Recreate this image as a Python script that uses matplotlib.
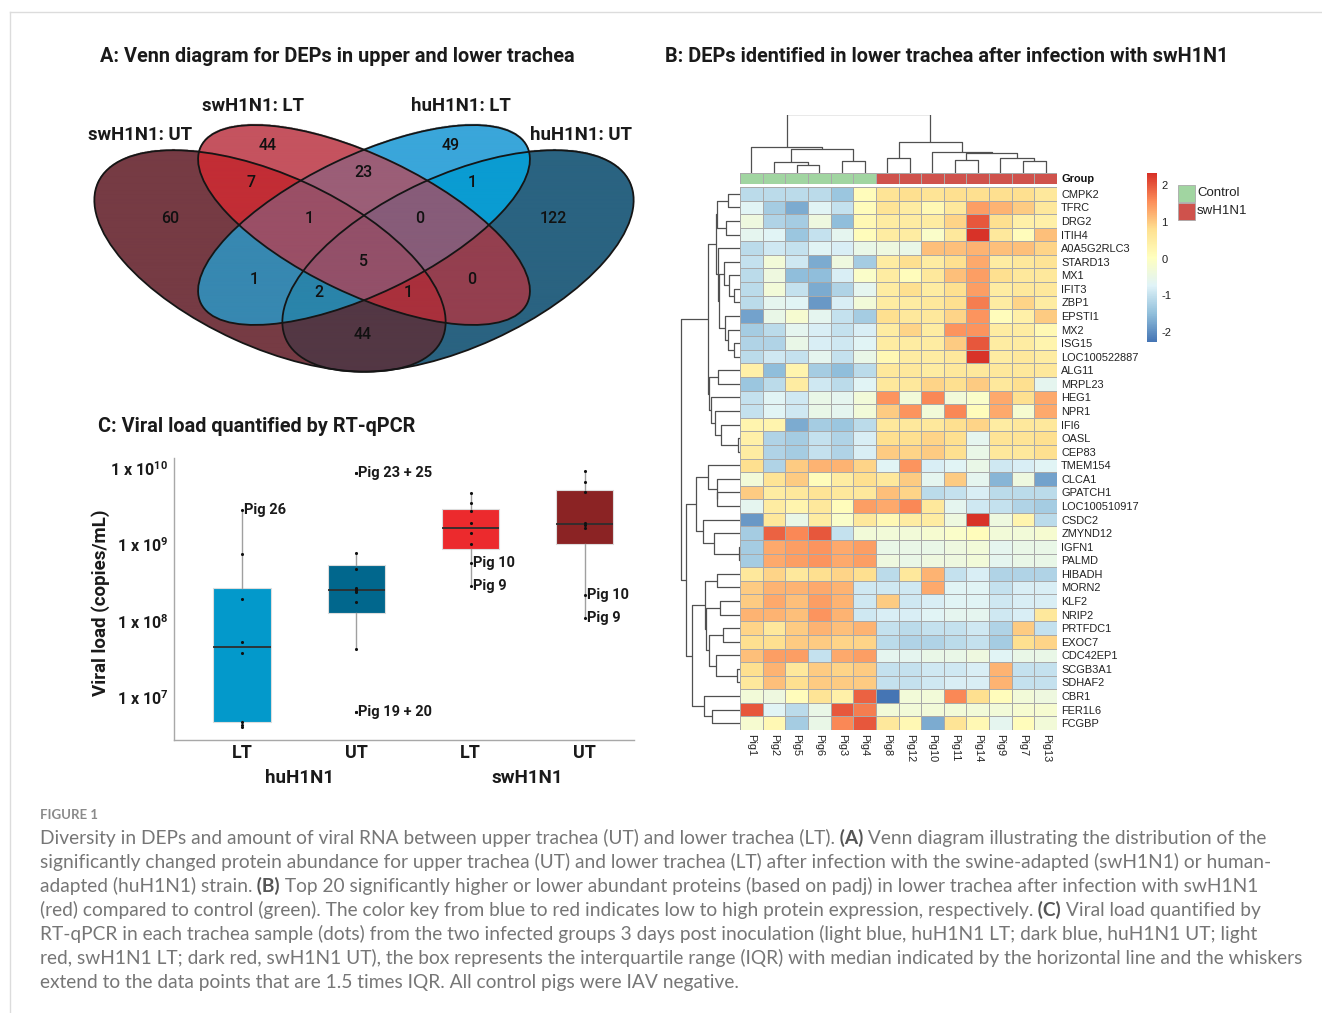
import numpy as np
import matplotlib
matplotlib.use('Agg')
import matplotlib.pyplot as plt
from matplotlib.patches import Ellipse, Rectangle
from matplotlib.lines import Line2D
from matplotlib.colors import LinearSegmentedColormap, ListedColormap, Normalize, to_rgba

plt.rcParams['font.family'] = ['Roboto', 'DejaVu Sans']
plt.rcParams['axes.unicode_minus'] = False
plt.rcParams['mathtext.fontset'] = 'custom'
plt.rcParams['mathtext.rm'] = 'Roboto:bold'

# ---------------- data ----------------
# A: Venn counts (A=swUT, B=swLT, C=huLT, D=huUT)
venn_sets = ['swH1N1: UT', 'swH1N1: LT', 'huH1N1: LT', 'huH1N1: UT']
venn_regions = ['A', 'B', 'C', 'D', 'AB', 'BC', 'CD', 'AC', 'BD', 'AD',
                'ABC', 'BCD', 'ACD', 'ABD', 'ABCD']
venn_counts = [60, 44, 49, 122, 7, 23, 1, 1, 0, 44, 1, 0, 2, 1, 5]

# B: heatmap (row z-scores)
genes = ['CMPK2', 'TFRC', 'DRG2', 'ITIH4', 'A0A5G2RLC3', 'STARD13', 'MX1', 'IFIT3',
         'ZBP1', 'EPSTI1', 'MX2', 'ISG15', 'LOC100522887', 'ALG11', 'MRPL23', 'HEG1',
         'NPR1', 'IFI6', 'OASL', 'CEP83', 'TMEM154', 'CLCA1', 'GPATCH1', 'LOC100510917',
         'CSDC2', 'ZMYND12', 'IGFN1', 'PALMD', 'HIBADH', 'MORN2', 'KLF2', 'NRIP2',
         'PRTFDC1', 'EXOC7', 'CDC42EP1', 'SCGB3A1', 'SDHAF2', 'CBR1', 'FER1L6', 'FCGBP']
pigs = ['Pig1', 'Pig2', 'Pig5', 'Pig6', 'Pig3', 'Pig4', 'Pig8', 'Pig12',
        'Pig10', 'Pig11', 'Pig14', 'Pig9', 'Pig7', 'Pig13']
groups = ['Control'] * 6 + ['swH1N1'] * 8
expr = np.array([
    [-1.1, -1.1, -1.1, -1.1, -1.4, 0.1, 0.7, 0.8, 0.7, 0.8, 0.8, 0.8, 0.8, 0.6],
    [-0.7, -1.3, -1.7, -0.7, -1.0, 0.1, 0.7, 0.5, 0.2, 0.6, 1.4, 1.2, 1.0, 0.6],
    [-0.4, -1.2, -1.3, -0.4, -1.5, 0.2, 0.5, 0.5, 0.5, 0.9, 2.0, 0.8, 0.4, 0.4],
    [-0.6, -0.7, -1.4, -1.0, -0.6, 0.1, 0.5, 0.5, -0.1, 0.6, 2.3, 0.6, 0.1, 1.1],
    [-1.1, -0.9, -1.0, -0.7, -0.8, -0.5, -0.4, -0.5, 1.1, 1.1, 1.2, 1.1, 1.1, 0.9],
    [-1.0, -0.3, -0.9, -1.7, -0.4, -1.3, 0.5, 0.8, 0.5, 0.8, 1.3, 0.5, 0.6, 0.7],
    [-1.1, -0.4, -1.5, -1.5, -0.8, -0.1, 0.5, 0.1, 0.6, 1.1, 1.4, 0.8, 0.6, 0.6],
    [-1.1, -0.3, -1.0, -1.7, -1.2, -0.6, 0.5, 0.8, 0.5, 0.8, 1.4, 0.5, 0.6, 0.6],
    [-1.1, -0.6, -0.7, -1.9, -0.8, -0.3, 0.5, 0.5, 0.6, 0.8, 1.7, 0.5, 0.9, 0.5],
    [-1.8, -0.5, -0.2, -0.6, -1.0, -1.3, 0.8, 0.6, 0.6, 0.9, 1.5, 0.1, 0.4, 1.0],
    [-1.3, -1.1, -0.6, -0.8, -1.0, -0.8, 0.5, 0.9, 0.5, 1.5, 1.5, 0.5, 0.5, 0.2],
    [-1.2, -1.2, -0.5, -0.8, -0.9, -0.7, 0.5, 0.5, 0.5, 1.0, 2.0, 0.5, 0.5, 0.3],
    [-1.1, -0.9, -1.0, -0.6, -1.0, -0.5, 0.2, 0.5, 0.5, 0.6, 2.3, 0.5, 0.6, 0.5],
    [0.4, -1.5, 0.3, -1.3, -1.5, -1.1, 0.6, 0.6, 0.5, 0.6, 0.6, 0.6, 0.6, 0.6],
    [-1.4, -1.1, 0.5, -0.9, -1.1, -0.7, 0.6, 0.6, 0.9, 0.8, 1.0, 0.6, 0.8, -0.6],
    [-1.0, -0.7, -0.9, -0.5, -0.6, -0.3, 1.5, -0.3, 1.6, -0.3, -0.1, 1.3, 0.8, 1.3],
    [-1.0, -0.7, -0.9, -0.5, -0.6, -0.3, 1.0, 1.5, -0.3, 1.6, 0.1, 1.3, -0.2, 1.3],
    [0.3, 0.3, -1.7, -1.3, -1.4, -1.1, 0.6, 0.6, 0.6, 0.8, 0.9, 0.5, 0.6, 0.6],
    [0.4, -1.2, -1.3, -1.0, -1.2, -0.8, 0.8, 0.8, 0.9, 0.8, -0.6, 0.7, 0.7, 0.8],
    [0.5, -1.2, -1.3, -1.0, -1.2, -0.8, 1.0, 0.9, 1.0, 0.8, -0.5, 0.6, 0.6, 0.8],
    [0.8, -1.2, 1.0, 1.2, 1.2, 0.9, -0.7, 1.5, -0.8, -0.7, -0.5, -0.9, -0.8, -0.7],
    [-0.3, 0.7, 1.0, 0.1, 0.5, 0.8, 0.6, 1.0, -0.6, 1.0, -0.6, -1.6, -0.4, -1.8],
    [1.0, 0.5, 0.6, 0.7, 0.6, 0.6, 1.1, 0.9, -1.1, -1.0, -0.8, -1.1, -1.1, -1.1],
    [-0.6, 0.5, 0.3, 0.6, 0.1, 1.4, 1.3, 1.6, 0.6, -0.6, -0.9, -1.0, -1.2, -1.3],
    [-1.9, 0.6, -0.5, 0.5, -0.1, 0.6, 0.2, 0.5, 0.5, -0.4, 2.3, -0.4, 0.3, -1.1],
    [-1.3, 1.9, 1.6, 2.0, -1.0, -0.3, -0.3, -0.3, -0.2, -0.1, 0.1, -0.3, -0.3, -0.2],
    [-1.3, 1.3, 1.4, 1.5, 1.3, 1.4, -0.5, -0.5, -0.5, -0.4, -0.3, -0.6, -0.5, -0.5],
    [-1.3, 1.3, 1.4, 1.5, 1.3, 1.4, -0.4, -0.5, -0.4, -0.4, -0.3, -0.6, -0.5, -0.5],
    [0.6, 0.9, 0.6, 0.8, 0.9, 0.8, -1.1, 0.6, 1.2, -1.0, -0.8, -1.2, -1.2, -1.2],
    [1.0, 1.2, 1.2, 1.3, 1.2, -0.9, -0.9, -0.9, 1.3, -0.7, -0.7, -1.0, -0.8, -0.8],
    [1.0, 1.3, 1.1, 1.4, 1.2, -0.9, 1.0, -0.9, -0.8, -0.7, -0.7, -0.9, -0.8, -0.8],
    [1.2, 1.2, 1.1, 1.5, 1.2, -0.9, -0.8, -0.8, -0.7, -0.6, -0.6, -0.9, -0.8, 0.6],
    [0.9, 0.6, 1.0, 1.2, 1.1, 1.2, -1.0, -1.1, -1.0, -1.0, -0.9, -1.2, 1.0, -1.0],
    [0.8, 0.8, 1.0, 1.0, 0.9, 0.9, -1.1, -1.2, -1.2, -1.1, -1.0, -1.3, 0.8, 0.9],
    [1.1, 1.4, 1.4, -1.0, 1.3, 1.4, -0.6, -0.6, -0.5, -0.5, -0.4, -0.7, -0.5, -0.5],
    [0.8, 1.2, 0.6, 1.0, 0.9, 1.0, -1.0, -1.0, -0.9, -0.9, -0.8, 1.2, -1.0, -1.0],
    [0.6, 1.1, 0.8, 1.0, 1.0, 1.0, -1.0, -1.0, -0.9, -0.8, -0.8, 1.2, -1.0, -1.0],
    [-0.3, -0.4, 0.1, 0.7, 0.4, 1.9, -2.3, -0.3, -0.3, 1.6, 0.8, 0.1, -0.3, -0.4],
    [2.0, -0.7, -1.1, -0.5, 2.0, 1.7, -0.3, -0.3, -0.3, -0.3, -0.3, -0.3, -0.2, -0.2],
    [-0.2, 0.2, -1.3, -0.5, 1.6, 2.0, 0.6, 0.2, -1.7, 0.7, 0.2, -0.6, 0.1, -0.3],
])

# clustering trees: (left, right, merge height); ints are display positions
col_tree = ((0, ((1, (2, 3, 7.7), 10.3), (4, 5, 12.0), 23.3), 25.3),
            ((6, 7, 14.3), (8, ((9, 10, 12.7), (11, (12, 13, 12.0), 15.0), 20.0), 21.0), 30.3),
            58.5)
row_top = ((((0, 1, 11.7), (2, 3, 13.7), 22.7),
            (4, (((5, (6, (7, 8, 6.0), 11.0), 16.0), (9, (10, (11, 12, 6.0), 11.7), 15.0), 21.0)), 22.0),
            23.7),
           ((13, 14, 21.7), (15, (16, (17, (18, 19, 1.7), 19.3), 25.0), 28.7), 31.0), 31.7)
row_bottom = (((20, (21, (22, 23, 22.7), 23.3), 31.7), (24, (25, (26, 27, 1.0), 26.0), 37.0), 43.7),
              ((((28, 29, 22.7), ((30, 31, 20.3), ((32, 33, 17.0), (34, (35, 36, 2.7), 24.3), 31.0), 33.7), 35.0)),
                (37, (38, 39, 27.7), 36.0), 48.3), 54.3)
row_tree = (row_top, row_bottom, 59.3)

# C: viral load (copies/mL)
load_groups = ['LT', 'UT', 'LT', 'UT']
hu_lt = [4.15e6, 4.37e6, 4.83e6, 3.78e7, 5.37e7, 1.96e8, 7.45e8, 2.82e9]
hu_ut = [6.52e6, 6.52e6, 4.31e7, 1.79e8, 2.42e8, 2.54e8, 2.54e8, 2.72e8,
         4.79e8, 7.67e8, 8.69e9, 8.69e9]
sw_lt = [2.89e8, 5.68e8, 1.02e9, 1.43e9, 1.93e9, 2.74e9, 3.52e9, 4.67e9]
sw_ut = [1.08e8, 2.19e8, 1.66e9, 1.78e9, 1.89e9, 4.81e9, 6.62e9, 9.23e9]
pig_notes = [(0, 2.82e9, 'Pig 26'), (1, 8.69e9, 'Pig 23 + 25'), (1, 6.52e6, 'Pig 19 + 20'),
             (2, 5.68e8, 'Pig 10'), (2, 2.89e8, 'Pig 9'),
             (3, 2.19e8, 'Pig 10'), (3, 1.08e8, 'Pig 9')]

# ---------------- figure ----------------
W, H = 1322, 1013
fig = plt.figure(figsize=(W / 100, H / 100), dpi=100)


def px_axes(x0, y0, x1, y1):
    return fig.add_axes([x0 / W, 1 - y1 / H, (x1 - x0) / W, (y1 - y0) / H])


def fig_text(x, y, s, **kw):
    return fig.text(x / W, 1 - y / H, s, **kw)


# thin page frame
fig.add_artist(Line2D([10 / W, 1], [1 - 12 / H, 1 - 12 / H], color='#dcdcdc', lw=1))
fig.add_artist(Line2D([10 / W, 10 / W], [0, 1 - 12 / H], color='#dcdcdc', lw=1))

title_kw = dict(fontsize=14.3, fontweight='bold', color='#1a1a1a', va='center', ha='left')
fig_text(100, 57, 'A: Venn diagram for DEPs in upper and lower trachea', **title_kw)
fig_text(665, 56, 'B: DEPs identified in lower trachea after infection with swH1N1', **title_kw)
fig_text(98, 426, 'C: Viral load quantified by RT-qPCR', **title_kw)

# ---- A: Venn ----
ax = px_axes(80, 95, 650, 400)
ax.set_xlim(80, 650)
ax.set_ylim(400, 95)
ax.axis('off')

ellipses = [(270, 261, 189, 86, 24.5), (364, 225, 181, 69, 25.6),
            (364, 225, 181, 69, -25.6), (458, 261, 189, 86, -24.5)]
region_colors = {'A': '#763b44', 'B': '#c5535f', 'C': '#3aa6da', 'D': '#2a6381',
                 'AB': '#c22d35', 'BC': '#9b5e77', 'CD': '#0a9cd2', 'AC': '#3788b1',
                 'BD': '#943f4f', 'AD': '#533744', 'ABC': '#9a4f66', 'BCD': '#875c79',
                 'ACD': '#2a84aa', 'ABD': '#a9303c', 'ABCD': '#935069'}
step = 0.5
gx = 80 + (np.arange(int(570 / step)) + 0.5) * step
gy = 95 + (np.arange(int(305 / step)) + 0.5) * step
X, Y = np.meshgrid(gx, gy)
code = np.zeros(X.shape, dtype=int)
for k, (cx, cy, a, b, ang) in enumerate(ellipses):
    t = np.deg2rad(ang)
    u = (X - cx) * np.cos(t) + (Y - cy) * np.sin(t)
    v = -(X - cx) * np.sin(t) + (Y - cy) * np.cos(t)
    code += ((u / a) ** 2 + (v / b) ** 2 <= 1).astype(int) << k
lut = np.zeros((16, 4))
for name, col in region_colors.items():
    idx = sum(1 << 'ABCD'.index(ch) for ch in name)
    lut[idx] = to_rgba(col)
ax.imshow(lut[code], extent=(80, 650, 400, 95), origin='upper', interpolation='bilinear')
for cx, cy, a, b, ang in ellipses:
    ax.add_patch(Ellipse((cx, cy), 2 * a, 2 * b, angle=ang, fill=False, ec='#151515', lw=1.3))

count_pos = {'A': (170, 218), 'B': (268, 145), 'C': (451, 145), 'D': (553, 218),
             'AB': (251, 182), 'BC': (363, 172), 'CD': (472, 182), 'AC': (254, 279),
             'BD': (472, 279), 'AD': (363, 334), 'ABC': (309, 218), 'BCD': (420, 218),
             'ACD': (319, 292), 'ABD': (408, 292), 'ABCD': (363, 261)}
for reg, n in zip(venn_regions, venn_counts):
    x, y = count_pos[reg]
    ax.text(x, y, str(n), ha='center', va='center', fontsize=11.5, fontweight='medium',
            color='#111111')
set_pos = [(140, 135), (253, 106), (461, 106), (581, 135)]
for name, (x, y) in zip(venn_sets, set_pos):
    ax.text(x, y, name, ha='center', va='center', fontsize=13.3, fontweight='bold',
            color='#1a1a1a')

# ---- B: heatmap ----
cmap = LinearSegmentedColormap.from_list(
    'rdylbu', ['#4575B4', '#91BFDB', '#E0F3F8', '#FFFFBF', '#FEE090', '#FC8D59', '#D73027'])
norm = Normalize(vmin=-2.27, vmax=2.33)
hx0, hy0, hx1, hy1 = 740, 187, 1057, 730

axh = px_axes(hx0, hy0, hx1, hy1)
mesh = axh.pcolormesh(np.arange(15), np.arange(41), expr, cmap=cmap, norm=norm,
                      edgecolors='#a9a9a9', linewidth=0.5)
axh.set_xlim(0, 14)
axh.set_ylim(40, 0)
for s in axh.spines.values():
    s.set_visible(False)
axh.yaxis.tick_right()
axh.set_yticks(np.arange(40) + 0.5, genes)
axh.set_xticks(np.arange(14) + 0.5, pigs, rotation=-90)
axh.tick_params(length=0, pad=3, labelsize=7.9, labelfontfamily='Liberation Sans',
                colors='#222222')

axg = px_axes(hx0, 172.7, hx1, 184.5)
grp_codes = np.array([[0 if g == 'Control' else 1 for g in groups]])
axg.pcolormesh(np.arange(15), np.arange(2), grp_codes,
               cmap=ListedColormap(['#a1d5a1', '#cf524c']), vmin=0, vmax=1,
               edgecolors='#a9a9a9', linewidth=0.5)
axg.set_xlim(0, 14)
axg.set_ylim(1, 0)
axg.axis('off')
fig_text(1061, 179.5, 'Group', fontsize=7.9, fontweight='bold', family='Liberation Sans',
         va='center', ha='left', color='#111111')


def draw_tree(a, node, rows):
    if isinstance(node, int):
        return node + 0.5, 0.0
    left, right, h = node
    pl, hl = draw_tree(a, left, rows)
    pr, hr = draw_tree(a, right, rows)
    p = [pl, pl, pr, pr]
    q = [hl, h, h, hr]
    if rows:
        a.plot(q, p, color='#505050', lw=0.9, solid_capstyle='butt')
    else:
        a.plot(p, q, color='#505050', lw=0.9, solid_capstyle='butt')
    return (pl + pr) / 2, h


axd = px_axes(740, 115, 1057, 172.7)
draw_tree(axd, col_tree, rows=False)
axd.set_xlim(0, 14)
axd.set_ylim(0, 57.7)
axd.axis('off')

axr = px_axes(680, hy0, 740, hy1)
draw_tree(axr, row_tree, rows=True)
axr.set_xlim(60, 0)
axr.set_ylim(40, 0)
axr.axis('off')

cax = px_axes(1147, 173, 1157, 342)
cb = fig.colorbar(mesh, cax=cax, ticks=[-2, -1, 0, 1, 2])
cb.outline.set_visible(False)
cax.tick_params(length=0, pad=3, labelsize=8, colors='#222222')
for lab in cax.get_yticklabels():
    lab.set_family('Liberation Sans')

axl = px_axes(1176, 184, 1260, 222)
axl.set_xlim(0, 84)
axl.set_ylim(38, 0)
axl.axis('off')
for i, (name, col) in enumerate([('Control', '#a1d5a1'), ('swH1N1', '#cf524c')]):
    axl.add_patch(Rectangle((2, 1 + 18 * i), 17, 17, fc=col, ec='#a9a9a9', lw=0.6))
    axl.text(21, 9.5 + 18 * i, name, va='center', ha='left', fontsize=9.5,
             family='Liberation Sans', color='#222222')

# ---- C: viral load ----
axb = px_axes(174, 458, 634, 740)
box_colors = ['#0399cb', '#01678d', '#ec2a2d', '#8b2324']
logs = [np.log10(v) for v in (hu_lt, hu_ut, sw_lt, sw_ut)]
bp = axb.boxplot(logs, positions=[1, 2, 3, 4], widths=0.5, patch_artist=True,
                 showfliers=False, showcaps=False, whis=1.5,
                 medianprops=dict(color='#2e2e2e', lw=1.3),
                 whiskerprops=dict(color='#a0a0a0', lw=1.0),
                 boxprops=dict(lw=0.8))
for patch, col in zip(bp['boxes'], box_colors):
    patch.set_facecolor(col)
    patch.set_edgecolor('#dddddd')
for i, vals in enumerate(logs):
    axb.scatter(np.full(len(vals), i + 1), vals, s=5, color='#111111', zorder=4, lw=0)
for gi, val, lab in pig_notes:
    axb.annotate(lab, (gi + 1, np.log10(val)), xytext=(1.5, 0), textcoords='offset points',
                 va='center', ha='left', fontsize=10.5, fontweight='bold', color='#1a1a1a')

axb.set_xlim(0.405, 4.43)
axb.set_ylim(6.444, 10.131)
axb.set_yticks([7, 8, 9, 10], ['1 x 10$^{%d}$' % e for e in (7, 8, 9, 10)])
axb.set_xticks([1, 2, 3, 4], load_groups)
axb.tick_params(axis='y', length=0, labelsize=11.5, labelcolor='#1a1a1a', pad=4)
axb.tick_params(axis='x', length=0, labelsize=13, labelcolor='#1a1a1a', pad=3)
for lab in axb.get_xticklabels():
    lab.set_fontweight('bold')
for lab in axb.get_yticklabels():
    lab.set_fontweight('bold')
for side in ('top', 'right'):
    axb.spines[side].set_visible(False)
for side in ('left', 'bottom'):
    axb.spines[side].set_color('#a8a8a8')
    axb.spines[side].set_linewidth(1.0)
fig_text(101, 603, 'Viral load (copies/mL)', rotation=90, fontsize=13.5, fontweight='bold',
         va='center', ha='center', color='#1a1a1a')
fig_text(299, 778, 'huH1N1', fontsize=13.5, fontweight='bold', va='center', ha='center',
         color='#1a1a1a')
fig_text(527, 778, 'swH1N1', fontsize=13.5, fontweight='bold', va='center', ha='center',
         color='#1a1a1a')

# ---- caption ----
cap_color = '#767676'
fig_text(40, 815, 'FIGURE 1', fontsize=9.5, family='Lato', fontweight='bold',
         color='#8a8a8a', va='center', ha='left')
caption = [
    [('Diversity in DEPs and amount of viral RNA between upper trachea (UT) and lower trachea (LT).', False),
     (' (A)', True), (' Venn diagram illustrating the distribution of the', False)],
    [('significantly changed protein abundance for upper trachea (UT) and lower trachea (LT) after infection with the swine-adapted (swH1N1) or human-', False)],
    [('adapted (huH1N1) strain.', False), (' (B)', True),
     (' Top 20 significantly higher or lower abundant proteins (based on padj) in lower trachea after infection with swH1N1', False)],
    [('(red) compared to control (green). The color key from blue to red indicates low to high protein expression, respectively.', False),
     (' (C)', True), (' Viral load quantified by', False)],
    [('RT-qPCR in each trachea sample (dots) from the two infected groups 3 days post inoculation (light blue, huH1N1 LT; dark blue, huH1N1 UT; light', False)],
    [('red, swH1N1 LT; dark red, swH1N1 UT), the box represents the interquartile range (IQR) with median indicated by the horizontal line and the whiskers', False)],
    [('extend to the data points that are 1.5 times IQR. All control pigs were IAV negative.', False)],
]
renderer = fig.canvas.get_renderer()
probe = fig_text(40, 900, caption[5][0][0], fontsize=12, family='Lato')
cap_size = 12 * 1255 / probe.get_window_extent(renderer).width
probe.remove()
for i, parts in enumerate(caption):
    x = 40
    y = 838 + 24 * i
    for txt, bold in parts:
        t = fig_text(x, y, txt, fontsize=cap_size, family='Lato',
                     fontweight='bold' if bold else 'normal',
                     color='#555555' if bold else cap_color, va='center', ha='left')
        x += t.get_window_extent(renderer).width

fig.savefig('out.png', dpi=100)
